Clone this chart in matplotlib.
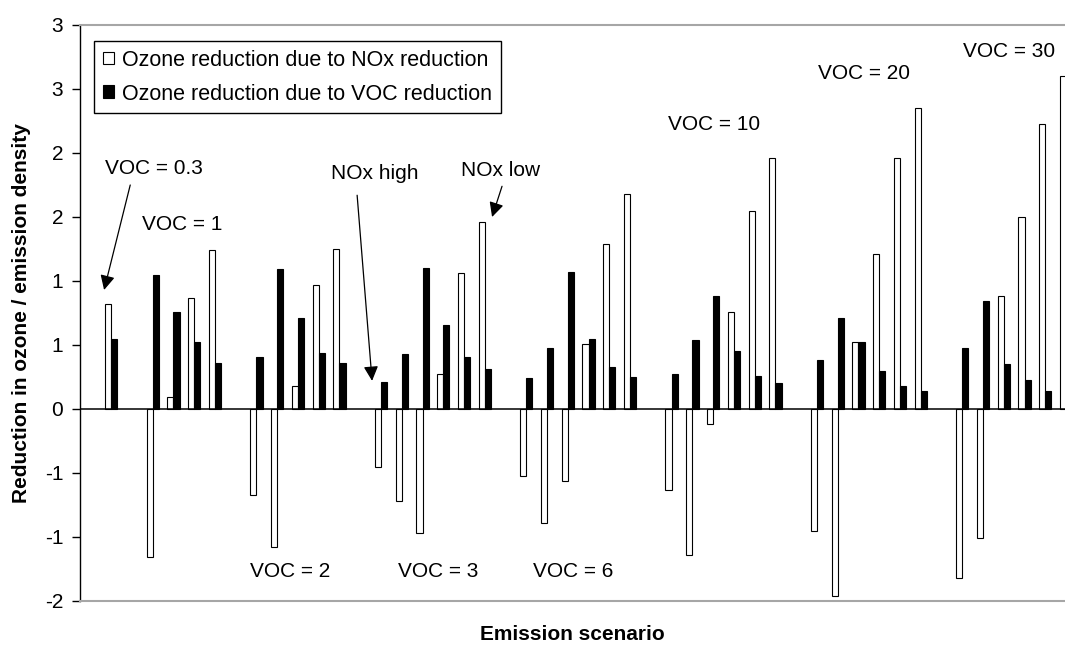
import matplotlib.pyplot as plt
import matplotlib.patches as mpatches
import numpy as np

# VOC emission levels, one group of NOx scenarios each (NOx high -> NOx low)
voc_levels = ["0.3", "1", "2", "3", "6", "10", "20", "30"]

# ozone reduction / emission density due to NOx reduction
nox_reduction = [
    [0.82],
    [-1.16, 0.09, 0.87, 1.24],
    [-0.67, -1.08, 0.18, 0.97, 1.25],
    [-0.45, -0.72, -0.97, 0.27, 1.06, 1.46],
    [-0.52, -0.89, -0.56, 0.51, 1.29, 1.68],
    [-0.63, -1.14, -0.12, 0.76, 1.55, 1.96],
    [-0.95, -1.46, 0.52, 1.21, 1.96, 2.35],
    [-1.32, -1.01, 0.88, 1.50, 2.23, 2.60],
]

# ozone reduction / emission density due to VOC reduction
voc_reduction = [
    [0.55],
    [1.05, 0.76, 0.52, 0.36],
    [0.41, 1.09, 0.71, 0.44, 0.36],
    [0.21, 0.43, 1.10, 0.66, 0.41, 0.31],
    [0.24, 0.48, 1.07, 0.55, 0.33, 0.25],
    [0.27, 0.54, 0.88, 0.45, 0.26, 0.20],
    [0.38, 0.71, 0.52, 0.30, 0.18, 0.14],
    [0.48, 0.84, 0.35, 0.23, 0.14, np.nan],
]

y_ticks = [-1.5, -1.0, -0.5, 0.0, 0.5, 1.0, 1.5, 2.0, 2.5, 3.0]
y_tick_labels = ["-2", "-1", "-1", "0", "1", "1", "2", "2", "3", "3"]

FONT = "Liberation Sans"
FS = 15


def slot_positions():
    # one empty category between VOC groups
    positions = []
    start = 0
    for group in nox_reduction:
        positions.append(np.arange(start, start + len(group)))
        start += len(group) + 1
    return positions


def main():
    plt.rcParams['font.family'] = [FONT, 'DejaVu Sans']
    fig = plt.figure(figsize=(10.65, 6.46), dpi=100)
    ax = fig.add_axes([80 / 1065, 1 - 601 / 646, 985 / 1065, 576 / 646])

    width = 0.295
    for pos, nox, voc in zip(slot_positions(), nox_reduction, voc_reduction):
        ax.bar(pos, nox, width=-width, align='edge', color='white',
               edgecolor='black', linewidth=0.8, zorder=2)
        ax.bar(pos, voc, width=width, align='edge', color='black',
               edgecolor='black', linewidth=0.8, zorder=2)

    ax.axhline(0, color='black', linewidth=1.1, zorder=3)

    ax.set_xlim(-1.5, 45.95)
    ax.set_ylim(-1.5, 3.0)
    ax.set_xticks([])
    ax.set_yticks(y_ticks)
    ax.set_yticklabels(y_tick_labels, fontsize=FS)
    ax.tick_params(axis='y', direction='out', length=6, width=1, pad=6)

    ax.spines['right'].set_visible(False)
    ax.spines['left'].set_linewidth(1)
    for side in ['top', 'bottom']:
        ax.spines[side].set_color('#a6a6a6')
        ax.spines[side].set_linewidth(1.5)

    ax.set_ylabel('Reduction in ozone / emission density', fontsize=FS,
                  fontweight='bold', labelpad=10)
    ax.set_xlabel('Emission scenario', fontsize=FS, fontweight='bold', labelpad=17)

    # group labels
    label_pos = {
        "0.3": (-0.29, 1.88), "1": (1.49, 1.44), "2": (6.70, -1.27),
        "3": (13.82, -1.27), "6": (20.33, -1.27), "10": (26.83, 2.22),
        "20": (34.06, 2.62), "30": (41.04, 2.79),
    }
    for voc in voc_levels:
        x, y = label_pos[voc]
        ax.text(x, y, f"VOC = {voc}", fontsize=FS, ha='left', va='center')

    ax.text(10.6, 1.84, "NOx high", fontsize=FS, ha='left', va='center')
    ax.text(16.86, 1.86, "NOx low", fontsize=FS, ha='left', va='center')

    arrow = dict(arrowstyle='-|>', color='black', lw=0.9, mutation_scale=22,
                 shrinkA=0, shrinkB=0)
    ax.annotate('', xy=(-0.34, 0.93), xytext=(0.92, 1.75), arrowprops=arrow)
    ax.annotate('', xy=(12.57, 0.22), xytext=(11.85, 1.67), arrowprops=arrow)
    ax.annotate('', xy=(18.35, 1.50), xytext=(18.83, 1.74), arrowprops=arrow)

    handles = [
        mpatches.Patch(facecolor='white', edgecolor='black', linewidth=0.8,
                       label='Ozone reduction due to NOx reduction'),
        mpatches.Patch(facecolor='black', edgecolor='black', linewidth=0.8,
                       label='Ozone reduction due to VOC reduction'),
    ]
    leg = ax.legend(handles=handles, loc='upper left',
                    bbox_to_anchor=(14 / 985, 1 - 16 / 576), borderaxespad=0,
                    fontsize=15.5, handlelength=0.55, handleheight=0.55,
                    handletextpad=0.35, labelspacing=0.6, borderpad=0.4,
                    fancybox=False, framealpha=1)
    leg.get_frame().set_edgecolor('black')
    leg.get_frame().set_linewidth(1)

    fig.savefig('out.png', dpi=100)
    plt.close(fig)


if __name__ == "__main__":
    main()
